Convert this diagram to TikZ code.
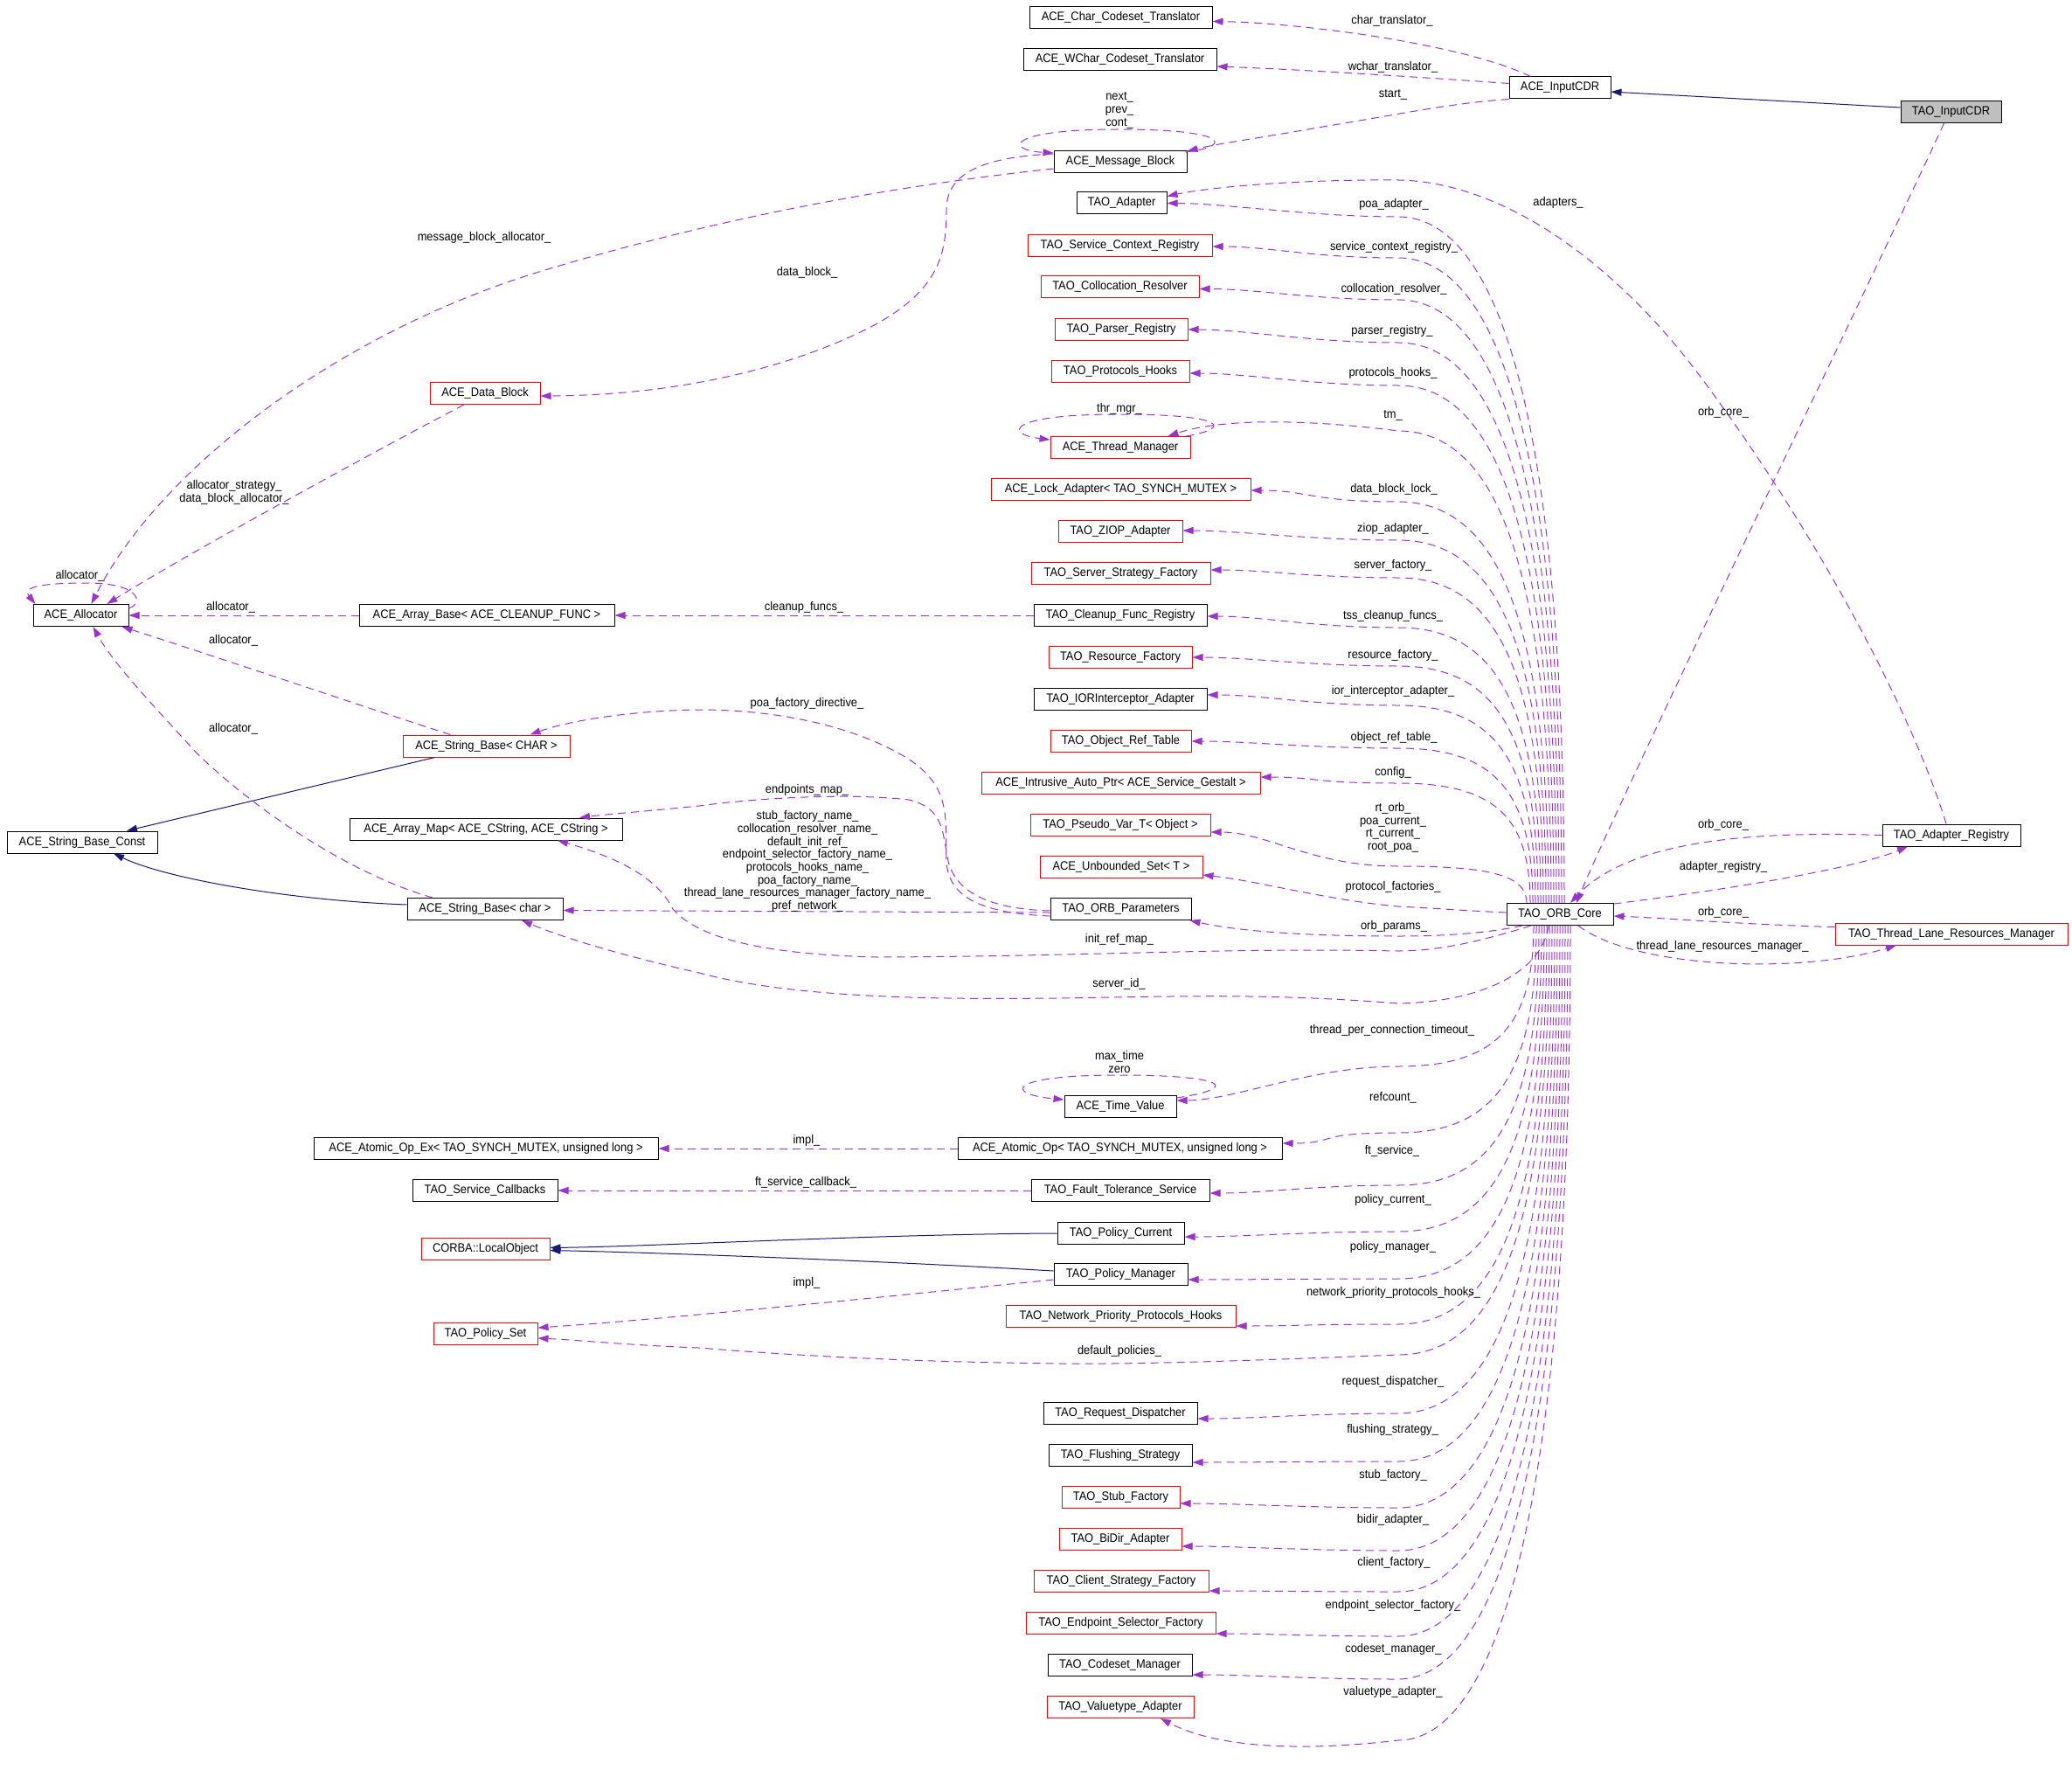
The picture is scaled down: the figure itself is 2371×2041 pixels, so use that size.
\documentclass[tikz,border=0pt]{standalone}
\usepackage{fontspec}
\setmainfont{Liberation Sans}[FakeStretch=0.92]
\usetikzlibrary{arrows.meta,calc}
\definecolor{depcol}{HTML}{9A32CD}
\definecolor{inhcol}{HTML}{191970}
\definecolor{boxred}{HTML}{FF0000}
\definecolor{cdrgray}{HTML}{BFBFBF}
\tikzset{
 cls/.style={draw=black, line width=1pt, minimum height=25pt, inner sep=0pt, font=\fontsize{14}{14.7}\selectfont, text height=10pt, text depth=3pt},
 redcls/.style={cls, draw=boxred},
 lbl/.style={inner sep=0pt, font=\fontsize{14}{14.7}\selectfont, text height=10pt, text depth=3pt},
 mlbl/.style={inner sep=0pt, font=\fontsize{14}{14.7}\selectfont, align=center},
 dep/.style={draw=depcol, line width=1pt, dash pattern=on 9pt off 6pt, -{Triangle[length=12pt,width=8pt]}},
 inh/.style={draw=inhcol, line width=1pt, -{Triangle[length=12pt,width=8pt]}},
}
\newcommand\ufan[4]{\draw[dep] ($(orbcore.north)+(#1,0)$) .. controls ($(orbcore.north)+(#1,{-0.75*(1033.5-#2)})$) and (1705,#2) .. (1600,#2) .. controls (1500,#2) and ($(#3)+(65,#4)$) .. ($(#3)+(0,#4)$);}
\newcommand\lfan[4]{\draw[dep] ($(orbcore.south)+(#1,0)$) .. controls ($(orbcore.south)+(#1,{0.75*(#2-1058.5)})$) and (1705,#2) .. (1600,#2) .. controls (1500,#2) and ($(#3)+(65,#4)$) .. ($(#3)+(0,#4)$);}
\begin{document}
\begin{tikzpicture}[x=1pt,y=-1pt]
\useasboundingbox (0,0) rectangle (2371,2041);
% ---------- middle column
\node[cls,minimum width=209pt] (charT) at (1282.5,20.5) {ACE\_Char\_Codeset\_Translator};
\node[cls,minimum width=221pt] (wcharT) at (1281.5,68.5) {ACE\_WChar\_Codeset\_Translator};
\node[cls,minimum width=152pt] (msgblk) at (1282,185) {ACE\_Message\_Block};
\node[cls,minimum width=103pt] (adapter) at (1283.5,232.5) {TAO\_Adapter};
\node[redcls,minimum width=211pt] (scr) at (1281.5,281) {TAO\_Service\_Context\_Registry};
\node[redcls,minimum width=181pt] (colres) at (1281.5,328.5) {TAO\_Collocation\_Resolver};
\node[redcls,minimum width=152pt] (parser) at (1283,377) {TAO\_Parser\_Registry};
\node[redcls,minimum width=158pt] (prothooks) at (1282,425) {TAO\_Protocols\_Hooks};
\node[redcls,minimum width=160pt] (thrmgr) at (1282,512) {ACE\_Thread\_Manager};
\node[redcls,minimum width=297pt] (lockad) at (1282.5,560) {ACE\_Lock\_Adapter< TAO\_SYNCH\_MUTEX >};
\node[redcls,minimum width=142pt] (ziop) at (1282,608) {TAO\_ZIOP\_Adapter};
\node[redcls,minimum width=205pt] (ssf) at (1282.5,656) {TAO\_Server\_Strategy\_Factory};
\node[cls,minimum width=198pt] (cleanup) at (1282,704) {TAO\_Cleanup\_Func\_Registry};
\node[redcls,minimum width=164pt] (resfac) at (1282,752) {TAO\_Resource\_Factory};
\node[cls,minimum width=198pt] (iorint) at (1282,800) {TAO\_IORInterceptor\_Adapter};
\node[redcls,minimum width=161pt] (objref) at (1282.5,848) {TAO\_Object\_Ref\_Table};
\node[redcls,minimum width=319pt] (intrusive) at (1282.5,896) {ACE\_Intrusive\_Auto\_Ptr< ACE\_Service\_Gestalt >};
\node[redcls,minimum width=206pt] (pseudo) at (1282,944) {TAO\_Pseudo\_Var\_T< Object >};
\node[redcls,minimum width=186pt] (unbset) at (1283,992) {ACE\_Unbounded\_Set< T >};
\node[cls,minimum width=161pt] (orbparams) at (1282.5,1040) {TAO\_ORB\_Parameters};
\node[cls,minimum width=128pt] (timeval) at (1282,1266) {ACE\_Time\_Value};
\node[cls,minimum width=371pt] (atomic) at (1281.5,1314) {ACE\_Atomic\_Op< TAO\_SYNCH\_MUTEX, unsigned long >};
\node[cls,minimum width=204pt] (fts) at (1282,1362) {TAO\_Fault\_Tolerance\_Service};
\node[cls,minimum width=145pt] (polcur) at (1282.5,1411) {TAO\_Policy\_Current};
\node[cls,minimum width=153pt] (polman) at (1282.5,1458) {TAO\_Policy\_Manager};
\node[redcls,minimum width=263pt] (npph) at (1282.5,1506) {TAO\_Network\_Priority\_Protocols\_Hooks};
\node[cls,minimum width=176pt] (reqdisp) at (1282,1617) {TAO\_Request\_Dispatcher};
\node[cls,minimum width=164pt] (flush) at (1282,1665) {TAO\_Flushing\_Strategy};
\node[redcls,minimum width=135pt] (stub) at (1282.5,1713) {TAO\_Stub\_Factory};
\node[redcls,minimum width=140pt] (bidir) at (1282,1761) {TAO\_BiDir\_Adapter};
\node[redcls,minimum width=200pt] (csf) at (1283,1809) {TAO\_Client\_Strategy\_Factory};
\node[redcls,minimum width=217pt] (esf) at (1282.5,1857) {TAO\_Endpoint\_Selector\_Factory};
\node[cls,minimum width=165pt] (codeset) at (1281.5,1905) {TAO\_Codeset\_Manager};
\node[redcls,minimum width=168pt] (valuetype) at (1282,1953) {TAO\_Valuetype\_Adapter};
% ---------- left
\node[cls,minimum width=109pt] (alloc) at (92.5,704) {ACE\_Allocator};
\node[cls,minimum width=292pt] (arraybase) at (557,704) {ACE\_Array\_Base< ACE\_CLEANUP\_FUNC >};
\node[redcls,minimum width=126pt] (datablk) at (555,450) {ACE\_Data\_Block};
\node[redcls,minimum width=191pt] (sbCHAR) at (556.5,853.5) {ACE\_String\_Base< CHAR >};
\node[cls,minimum width=312pt] (arraymap) at (556,948.5) {ACE\_Array\_Map< ACE\_CString, ACE\_CString >};
\node[cls,minimum width=172pt] (sbconst) at (94,963.5) {ACE\_String\_Base\_Const};
\node[cls,minimum width=178pt] (sbchar) at (555,1040) {ACE\_String\_Base< char >};
\node[cls,minimum width=394pt] (atomicex) at (556,1314) {ACE\_Atomic\_Op\_Ex< TAO\_SYNCH\_MUTEX, unsigned long >};
\node[cls,minimum width=166pt] (svccb) at (555,1362) {TAO\_Service\_Callbacks};
\node[redcls,minimum width=147pt] (localobj) at (555.5,1428.5) {CORBA::LocalObject};
\node[redcls,minimum width=119pt] (polset) at (555.5,1526) {TAO\_Policy\_Set};
% ---------- right
\node[cls,minimum width=116pt] (acecdr) at (1785,100.5) {ACE\_InputCDR};
\node[cls,minimum width=115pt,fill=cdrgray] (taocdr) at (2232.5,128) {TAO\_InputCDR};
\node[cls,minimum width=122pt] (orbcore) at (1785,1046) {TAO\_ORB\_Core};
\node[cls,minimum width=158pt] (adreg) at (2233,955.5) {TAO\_Adapter\_Registry};
\node[redcls,minimum width=266pt] (tlrm) at (2233,1068.5) {TAO\_Thread\_Lane\_Resources\_Manager};

% ---------- inheritance
\draw[inh] ($(taocdr.west)+(0,-5)$) -- ($(acecdr.east)+(0,4.5)$);
\draw[inh] ($(sbCHAR.south)+(-59,0)$) -- ($(sbconst.north)+(51,0)$);
\draw[inh] ($(sbchar.west)+(0,-5)$) .. controls (330,1030) and (190,1005) .. ($(sbconst.south)+(36,0)$);
\draw[inh] (polcur.west) .. controls (1000,1412) and (750,1426) .. ($(localobj.east)+(0,-1)$);
\draw[inh] ($(polman.west)+(0,-4)$) .. controls (1000,1442) and (750,1433) .. ($(localobj.east)+(0,2)$);

% ---------- ACE_InputCDR members
\draw[dep] ($(acecdr.north west)+(25,0)$) .. controls (1710,67) and (1620,46) .. (1514,33.5) .. controls (1460,27) and (1420,25) .. ($(charT.east)+(0,4)$);
\draw[dep] ($(acecdr.west)+(0,-5)$) .. controls (1650,90) and (1500,80) .. ($(wcharT.east)+(0,7.5)$);
\draw[dep] (acecdr.south west) .. controls (1660,118) and (1600,131) .. (1514,145) .. controls (1440,158) and (1390,165) .. ($(msgblk.north east)+(0,1)$);
% ---------- message block
\draw[dep] ($(msgblk.north east)+(-2,2)$) .. controls (1410,168) and (1410,148) .. (1280,148) .. controls (1150,148) and (1150,172) .. ($(msgblk.north west)+(0,3)$);
\draw[dep] ($(msgblk.west)+(0,-9)$) .. controls (1120,180) and (1083,200) .. (1083,240) .. controls (1083,290) and (1075,330) .. (1004,370) .. controls (930,410) and (800,452) .. ($(datablk.east)+(0,3)$);
\draw[dep] ($(msgblk.west)+(0,8)$) .. controls (1000,215) and (800,255) .. (612,312.5) .. controls (380,385) and (180,540) .. ($(alloc.north)+(12,0)$);
\draw[dep] ($(datablk.south)+(-24,0)$) .. controls (450,505) and (220,630) .. ($(alloc.north)+(30,0)$);
\draw[dep] ($(alloc.east)+(0,-8)$) .. controls (165,690) and (160,667) .. (100,667) .. controls (45,667) and (25,672) .. ($(alloc.north west)+(3,0)$);
\draw[dep] (arraybase.west) -- (alloc.east);
\draw[dep] ($(sbCHAR.north)+(-41,0)$) .. controls (420,810) and (250,752) .. ($(alloc.south)+(47,0)$);
\draw[dep] ($(sbchar.north)+(-60,0)$) .. controls (400,1000) and (290,925) .. (224.5,861) .. controls (180,812) and (130,760) .. ($(alloc.south)+(14,0)$);
\draw[dep] (cleanup.west) -- (arraybase.east);
% ---------- ORB_Parameters
\draw[dep] ($(orbparams.west)+(0,4)$) -- ($(sbchar.east)+(0,1.5)$);
\draw[dep] ($(orbparams.west)+(0,8)$) .. controls (1130,1045) and (1085,1030) .. (1083,985) .. controls (1081,940) and (1090,905) .. (1045,872) .. controls (990,835) and (900,812) .. (800,812) .. controls (720,813) and (650,825) .. ($(sbCHAR.north)+(50,0)$);
\draw[dep] ($(orbparams.west)+(0,2)$) .. controls (1140,1040) and (1095,1025) .. (1085,985) .. controls (1078,950) and (1080,925) .. (1040,915) .. controls (960,906) and (850,915) .. (800,922) .. controls (740,928) and (690,932) .. ($(arraymap.north)+(107,0)$);
% ---------- self loops
\draw[dep] ($(thrmgr.north east)+(-5,0)$) .. controls (1410,490) and (1405,474) .. (1280,474) .. controls (1150,474) and (1150,497) .. ($(thrmgr.north west)+(0,4)$);
\draw[dep] ($(timeval.east)+(0,-10)$) .. controls (1420,1245) and (1405,1230) .. (1280,1230) .. controls (1150,1230) and (1150,1252) .. ($(timeval.west)+(0,-8)$);
% ---------- misc
\draw[dep] (atomic.west) -- (atomicex.east);
\draw[dep] (fts.west) -- (svccb.east);
\draw[dep] ($(polman.west)+(0,6)$) .. controls (1000,1485) and (750,1510) .. ($(polset.east)+(0,-7)$);

% ---------- ORB_Core upper fan
\ufan{5}{248}{adapter.east}{0}
\ufan{2}{295}{scr.east}{1}
\ufan{-1}{343}{colres.east}{2}
\ufan{-4}{392}{parser.east}{0}
\ufan{-7}{441}{prothooks.east}{2}
\draw[dep] ($(orbcore.north)+(-10,0)$) .. controls ($(orbcore.north)+(-10,{-0.75*(1033.5-493)})$) and (1705,493) .. (1600,493) .. controls (1500,480) and (1400,478) .. ($(thrmgr.north east)+(-26,0)$);
\ufan{-13}{574}{lockad.east}{1}
\ufan{-16}{618}{ziop.east}{-1}
\ufan{-19}{661}{ssf.east}{-4}
\ufan{-22}{718}{cleanup.east}{1}
\ufan{-25}{762}{resfac.east}{0}
\ufan{-28}{807}{iorint.east}{-5}
\ufan{-31}{856}{objref.east}{0}
\ufan{-34}{896}{intrusive.east}{-7}
\ufan{-38}{991}{pseudo.east}{8}
% ---------- ORB_Core side
\draw[dep] ($(orbcore.west)+(0,-2)$) .. controls (1680,1042) and (1640,1039) .. (1600,1037) .. controls (1520,1030) and (1440,1008) .. ($(unbset.east)+(0,9)$);
\draw[dep] ($(orbcore.south)+(-43,0)$) .. controls (1700,1068) and (1650,1071) .. (1600,1071) .. controls (1500,1071) and (1420,1066) .. ($(orbparams.south east)+(-2,0)$);
\draw[dep] ($(orbcore.south)+(-33,0)$) .. controls (1700,1075) and (1650,1088) .. (1600,1088) .. controls (1400,1084) and (1250,1094) .. (1004,1095) .. controls (880,1092) and (800,1075) .. (770,1040) .. controls (755,1010) and (720,985) .. ($(arraymap.south)+(82,0)$);
\draw[dep] ($(orbcore.south)+(-13,0)$) .. controls (1765,1110) and (1700,1146) .. (1600,1148) .. controls (1450,1136) and (1350,1140) .. (1208,1142) .. controls (1050,1144) and (900,1140) .. (800,1113) .. controls (720,1095) and (650,1075) .. ($(sbchar.south)+(42,0)$);
% ---------- ORB_Core lower fan
\lfan{-30}{1220}{timeval.east}{-7}
\lfan{-27}{1296}{atomic.east}{-6}
\lfan{-24}{1356}{fts.east}{3}
\lfan{-21}{1409}{polcur.east}{4}
\lfan{-18}{1463}{polman.east}{6}
\lfan{-15}{1515}{npph.east}{11}
\draw[dep] ($(orbcore.south)+(-12,0)$) .. controls ($(orbcore.south)+(-12,{0.75*(1550-1058.5)})$) and (1705,1550) .. (1600,1550) .. controls (1420,1557) and (1300,1561) .. (1214,1560) .. controls (1000,1558) and (850,1546) .. (800,1542) .. controls (720,1539) and (660,1533) .. ($(polset.east)+(0,5)$);
\lfan{-9}{1617}{reqdisp.east}{6}
\lfan{-6}{1672}{flush.east}{8}
\lfan{-3}{1725}{stub.east}{7}
\lfan{0}{1774}{bidir.east}{8}
\lfan{3}{1821}{csf.east}{11}
\lfan{6}{1872}{esf.east}{12}
\lfan{9}{1921}{codeset.east}{11}
\draw[dep] ($(orbcore.south)+(12,0)$) .. controls ($(orbcore.south)+(12,{0.75*(1991-1058.5)})$) and (1705,1991) .. (1600,1991) .. controls (1480,2005) and (1390,1998) .. ($(valuetype.south)+(46,0)$);
% ---------- right side
\draw[dep] ($(taocdr.south)+(-8,0)$) .. controls (2180,240) and (1850,920) .. ($(orbcore.north)+(19,0)$);
\draw[dep] ($(adreg.north)+(-6,0)$) .. controls (2190,820) and (2080,610) .. (1944,428.6) .. controls (1848,300.6) and (1720,208) .. (1600,206) .. controls (1480,205) and (1380,215) .. ($(adapter.east)+(0,-8)$);
\draw[dep] (adreg.west) .. controls (1990,950) and (1860,965) .. ($(orbcore.north)+(12,0)$);
\draw[dep] ($(orbcore.north east)+(0,1)$) .. controls (1960,1020) and (2120,995) .. ($(adreg.south)+(-50,0)$);
\draw[dep] ($(tlrm.west)+(0,-8)$) .. controls (2000,1058) and (1900,1050) .. ($(orbcore.east)+(0,2)$);
\draw[dep] ($(orbcore.south)+(21,0)$) .. controls (1870,1108) and (2060,1115) .. ($(tlrm.south)+(-63,0)$);

% ---------- labels
\node[lbl] (l1) at (1593,24.5) {char\_translator\_};
\node[lbl] (l2) at (1594,76.8) {wchar\_translator\_};
\node[lbl] (l3) at (1594,108.5) {start\_};
\node[mlbl] (l4) at (1281,126.5) {next\_\\prev\_\\cont\_};
\node[lbl] (l5) at (923.5,312.5) {data\_block\_};
\node[lbl] (l6) at (554,272) {message\_block\_allocator\_};
\node[mlbl] (l7) at (268,563) {allocator\_strategy\_\\data\_block\_allocator\_};
\node[lbl] (l8) at (91.5,659.4) {allocator\_};
\node[lbl] (l9) at (264,694.6) {allocator\_};
\node[lbl] (l10) at (267,732.6) {allocator\_};
\node[lbl] (l11) at (267,834.4) {allocator\_};
\node[lbl] (l12) at (920,694.6) {cleanup\_funcs\_};
\node[lbl] (l13) at (1595,234.4) {poa\_adapter\_};
\node[lbl] (l14) at (1595,283) {service\_context\_registry\_};
\node[lbl] (l15) at (1595,331) {collocation\_resolver\_};
\node[lbl] (l16) at (1593,379) {parser\_registry\_};
\node[lbl] (l17) at (1594,427) {protocols\_hooks\_};
\node[lbl] (l18) at (1281,468) {thr\_mgr\_};
\node[lbl] (l19) at (1594,475) {tm\_};
\node[lbl] (l20) at (1595,560) {data\_block\_lock\_};
\node[lbl] (l21) at (1594,605) {ziop\_adapter\_};
\node[lbl] (l22) at (1594,647) {server\_factory\_};
\node[lbl] (l23) at (1594,705) {tss\_cleanup\_funcs\_};
\node[lbl] (l24) at (1594,750.4) {resource\_factory\_};
\node[lbl] (l25) at (1594,790.6) {ior\_interceptor\_adapter\_};
\node[lbl] (l26) at (1595,844) {object\_ref\_table\_};
\node[lbl] (l27) at (1594,883.5) {config\_};
\node[mlbl] (l28) at (1594,947) {rt\_orb\_\\poa\_current\_\\rt\_current\_\\root\_poa\_};
\node[lbl] (l29) at (1594,1014.7) {protocol\_factories\_};
\node[lbl] (l30) at (1595,1059.8) {orb\_params\_};
\node[lbl] (l31) at (1281,1075.4) {init\_ref\_map\_};
\node[lbl] (l32) at (1280.5,1126) {server\_id\_};
\node[lbl] (l33) at (1593,1178.6) {thread\_per\_connection\_timeout\_};
\node[mlbl] (l34) at (1281,1215) {max\_time\\zero};
\node[lbl] (l35) at (1594,1255.8) {refcount\_};
\node[lbl] (l36) at (923,1305) {impl\_};
\node[lbl] (l37) at (1593,1316.5) {ft\_service\_};
\node[lbl] (l38) at (922,1352.7) {ft\_service\_callback\_};
\node[lbl] (l39) at (1594,1372.8) {policy\_current\_};
\node[lbl] (l40) at (1594,1426.6) {policy\_manager\_};
\node[lbl] (l41) at (923,1467.5) {impl\_};
\node[lbl] (l42) at (1594.5,1478.5) {network\_priority\_protocols\_hooks\_};
\node[lbl] (l43) at (1281,1546.4) {default\_policies\_};
\node[lbl] (l44) at (1594,1580.7) {request\_dispatcher\_};
\node[lbl] (l45) at (1593.5,1635.9) {flushing\_strategy\_};
\node[lbl] (l46) at (1594,1687.8) {stub\_factory\_};
\node[lbl] (l47) at (1594,1738.5) {bidir\_adapter\_};
\node[lbl] (l48) at (1595,1787.6) {client\_factory\_};
\node[lbl] (l49) at (1594,1836.6) {endpoint\_selector\_factory\_};
\node[lbl] (l50) at (1594.5,1886.9) {codeset\_manager\_};
\node[lbl] (l51) at (1594,1935.6) {valuetype\_adapter\_};
\node[lbl] (l52) at (923.5,804.5) {poa\_factory\_directive\_};
\node[lbl] (l53) at (923.5,903.6) {endpoints\_map\_};
\node[mlbl] (l54) at (924,985.5) {stub\_factory\_name\_\\collocation\_resolver\_name\_\\default\_init\_ref\_\\endpoint\_selector\_factory\_name\_\\protocols\_hooks\_name\_\\poa\_factory\_name\_\\thread\_lane\_resources\_manager\_factory\_name\_\\pref\_network\_};
\node[lbl] (l55) at (1783,232) {adapters\_};
\node[lbl] (l56) at (1972,472) {orb\_core\_};
\node[lbl] (l57) at (1972,943.75) {orb\_core\_};
\node[lbl] (l58) at (1972,991.5) {adapter\_registry\_};
\node[lbl] (l59) at (1972,1043.75) {orb\_core\_};
\node[lbl] (l60) at (1971,1082.6) {thread\_lane\_resources\_manager\_};
\end{tikzpicture}
\end{document}
